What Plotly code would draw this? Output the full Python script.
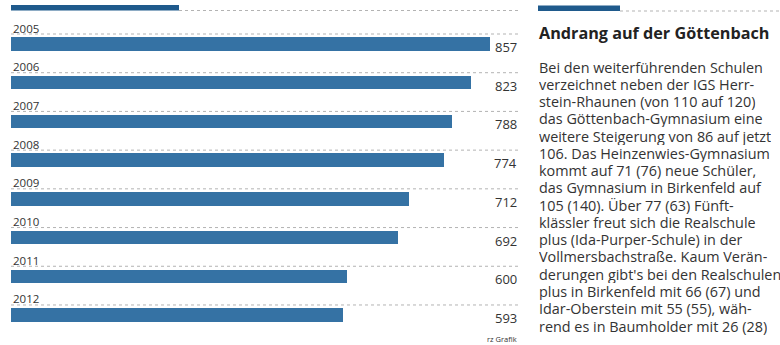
import plotly.graph_objects as go

years = ["2005", "2006", "2007", "2008", "2009", "2010", "2011", "2012"]
values = [857, 823, 788, 774, 712, 692, 600, 593]

title = "Andrang auf der Göttenbach"
body_lines = [
    "Bei den weiterführenden Schulen",
    "verzeichnet neben der IGS Herr-",
    "stein-Rhaunen (von 110 auf 120)",
    "das Göttenbach-Gymnasium eine",
    "weitere Steigerung von 86 auf jetzt",
    "106. Das Heinzenwies-Gymnasium",
    "kommt auf 71 (76) neue Schüler,",
    "das Gymnasium in Birkenfeld auf",
    "105 (140). Über 77 (63) Fünft-",
    "klässler freut sich die Realschule",
    "plus (Ida-Purper-Schule) in der",
    "Vollmersbachstraße. Kaum Verän-",
    "derungen gibt's bei den Realschulen",
    "plus in Birkenfeld mit 66 (67) und",
    "Idar-Oberstein mit 55 (55), wäh-",
    "rend es in Baumholder mit 26 (28)",
]
source = "rz Grafik"

W, H = 780, 345
BAR = "#3572a4"
DARK = "#1f5a8c"
TXT = "#333333"
DOT = "#b3b3b3"
FONT = "Open Sans"

x0px, x1px = 11, 519
scale = 0.5595
xmax = (x1px - x0px) / scale
c0, step = 44.0, 38.71
ytop = -c0 / step
ybot = (H - c0) / step

fig = go.Figure()
fig.add_trace(go.Bar(
    y=list(range(len(years))), x=values, orientation="h",
    marker=dict(color=BAR, line=dict(width=0)),
    width=13.5 / step, hoverinfo="skip",
))

shapes = []
ann = []
for i, (yr, v) in enumerate(zip(years, values)):
    yl = 1 - (c0 + step * i - 10.0) / H
    shapes.append(dict(type="line", xref="paper", yref="paper",
                       x0=x0px / W, x1=x1px / W, y0=yl, y1=yl,
                       line=dict(color=DOT, width=1, dash="dot")))
    ann.append(dict(x=x0px / W, y=i, xref="paper", yref="y", text=yr,
                    xanchor="left", yanchor="middle", yshift=16,
                    showarrow=False, font=dict(family=FONT, size=11.5, color=TXT)))
    ann.append(dict(x=x1px / W, y=i, xref="paper", yref="y", text=str(v),
                    xanchor="right", yanchor="middle", yshift=-3,
                    showarrow=False, font=dict(family=FONT, size=13, color=TXT)))

shapes.append(dict(type="rect", xref="paper", yref="paper",
                   x0=x0px / W, x1=179 / W, y0=1 - 10.5 / H, y1=1 - 5 / H,
                   fillcolor=DARK, line=dict(width=0)))
shapes.append(dict(type="line", xref="paper", yref="paper",
                   x0=179 / W, x1=x1px / W, y0=1 - 10.5 / H, y1=1 - 10.5 / H,
                   line=dict(color=DOT, width=1, dash="dot")))
shapes.append(dict(type="rect", xref="paper", yref="paper",
                   x0=538 / W, x1=620 / W, y0=1 - 11 / H, y1=1 - 5.5 / H,
                   fillcolor=DARK, line=dict(width=0)))
shapes.append(dict(type="line", xref="paper", yref="paper",
                   x0=620 / W, x1=1, y0=1 - 11 / H, y1=1 - 11 / H,
                   line=dict(color=DOT, width=1, dash="dot")))

ann.append(dict(x=537 / W, y=1 - 33 / H, xref="paper", yref="paper",
                text="<b>" + title + "</b>", xanchor="left", yanchor="middle",
                showarrow=False, font=dict(family=FONT, size=16.2, color="#222222")))
for k, line in enumerate(body_lines):
    ann.append(dict(x=537 / W, y=1 - (67 + 17.27 * k) / H, xref="paper", yref="paper",
                    text=line, xanchor="left", yanchor="middle", height=17,
                    showarrow=False, font=dict(family=FONT, size=14.4, color=TXT)))
ann.append(dict(x=x1px / W, y=1 - 339 / H, xref="paper", yref="paper",
                text=source, xanchor="right", yanchor="middle",
                showarrow=False, font=dict(family=FONT, size=7.5, color=TXT)))

fig.update_layout(
    width=W, height=H, margin=dict(l=0, r=0, t=0, b=0),
    paper_bgcolor="white", plot_bgcolor="white",
    showlegend=False, shapes=shapes, annotations=ann,
    xaxis=dict(domain=[x0px / W, x1px / W], range=[0, xmax], visible=False,
               showgrid=False, zeroline=False, showline=False, fixedrange=True),
    yaxis=dict(range=[ybot, ytop], visible=False, showgrid=False, zeroline=False,
               showline=False, fixedrange=True),
    bargap=0,
)
fig.write_html("out.html", config={"displayModeBar": False})
